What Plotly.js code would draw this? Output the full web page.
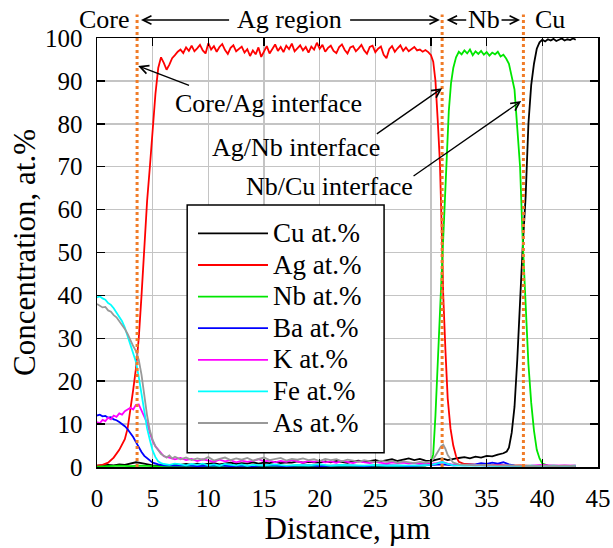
<!DOCTYPE html>
<html><head><meta charset="utf-8">
<script src="https://cdn.plot.ly/plotly-3.0.1.min.js"></script>
<style>html,body{margin:0;padding:0;background:#fff}#chart{width:613px;height:548px}</style>
</head><body><div id="chart"></div>
<script>
const seriesNames = ['Cu at.%','Ag at.%','Nb at.%','Ba at.%','K at.%','Fe at.%','As at.%'];
const seriesColors = ['#000000','#ff0000','#00e600','#0000ff','#ff00ff','#00ffff','#999999'];
const interfaces = [3.6, 31.0, 38.3];

const cuPts = [[0,0.3],[0.5,0.4],[1,0.5],[1.5,0.4],[2,0.6],[2.5,0.5],[3,0.8],[3.5,1.1],[4,0.9],[4.5,0.6],[5,0.4],[5.5,0.3],[6,0.5],[6.5,0.4],[7,0.6],[7.5,0.5],[8,0.7],[8.5,0.5],[9,0.8],[9.5,0.6],[10,0.7],[10.5,0.9],[11,0.6],[11.5,0.8],[12,1.0],[12.5,0.7],[13,0.9],[13.5,0.8],[14,1.1],[14.5,0.8],[15,1.0],[15.5,0.9],[16,1.2],[16.5,0.9],[17,1.1],[17.5,1.0],[18,1.3],[18.5,1.0],[19,1.2],[19.5,1.1],[20,1.0],[20.5,1.3],[21,1.1],[21.5,1.4],[22,1.2],[22.5,1.0],[23,1.3],[23.5,1.5],[24,1.2],[24.5,1.4],[25,1.6],[25.5,1.3],[26,1.5],[26.5,1.8],[27,1.4],[27.5,1.7],[28,2.0],[28.5,1.6],[29,1.9],[29.5,1.5],[30,1.4],[30.5,1.7],[31,2.0],[31.5,1.6],[32,1.9],[32.5,2.1],[33,2.3],[33.5,2.0],[34,2.4],[34.5,2.2],[35,2.6],[35.5,2.5],[36,2.9],[36.5,3.2],[36.8,3.6],[37,4.5],[37.25,8],[37.5,14],[37.75,25],[38,40],[38.25,52],[38.5,63],[38.75,80],[39,89],[39.25,94],[39.5,97.5],[39.75,99],[40,99.6],[40.25,99.2],[40.5,99.7],[40.75,99.4],[41,99.8],[41.25,99.3],[41.5,99.6],[41.75,99.9],[42,99.4],[42.25,99.7],[42.5,99.5],[42.75,99.9],[43,99.6]];

const agPts = [[0,0.3],[0.5,0.5],[1,1.0],[1.5,2.2],[2,4.0],[2.5,6.5],[2.75,9],[3,13],[3.25,18],[3.5,23],[3.75,30],[4,40],[4.25,52],[4.5,62],[4.75,70],[5,79],[5.25,87],[5.5,93],[5.75,95.5],[6,94.2],[6.25,92.6],[6.5,93.8],[6.75,95.3],[7,96.0],[7.25,96.8],[7.5,97.3],[7.75,96.5],[8,97.8],[8.25,97.0],[8.5,98.2],[8.75,96.9],[9,97.6],[9.25,98.4],[9.5,97.1],[9.75,96.4],[10,98.8],[10.25,97.3],[10.5,98.1],[10.75,96.8],[11,97.9],[11.25,98.6],[11.5,97.2],[11.75,96.3],[12,97.7],[12.25,98.3],[12.5,96.9],[12.75,97.5],[13,98.0],[13.25,96.6],[13.5,97.4],[13.75,95.8],[14,97.1],[14.25,96.2],[14.5,97.8],[14.75,95.6],[15,96.9],[15.25,98.1],[15.5,96.4],[15.75,97.6],[16,98.5],[16.25,97.0],[16.5,97.9],[16.75,96.7],[17,98.2],[17.25,97.4],[17.5,98.7],[17.75,96.9],[18,97.6],[18.25,98.3],[18.5,97.1],[18.75,97.9],[19,96.6],[19.25,98.0],[19.5,97.3],[19.75,98.9],[20,97.5],[20.25,98.4],[20.5,96.8],[20.75,97.7],[21,98.2],[21.25,97.0],[21.5,96.5],[21.75,97.9],[22,98.5],[22.25,97.2],[22.5,96.4],[22.75,97.8],[23,98.1],[23.25,96.9],[23.5,97.6],[23.75,98.4],[24,97.1],[24.25,96.3],[24.5,97.9],[24.75,98.2],[25,96.7],[25.25,97.5],[25.5,98.0],[25.75,96.1],[26,95.3],[26.25,97.4],[26.5,98.1],[26.75,96.8],[27,97.6],[27.25,98.3],[27.5,97.0],[27.75,97.8],[28,96.9],[28.25,97.4],[28.5,97.9],[28.75,97.1],[29,97.3],[29.25,96.8],[29.5,97.2],[29.75,96.7],[30,96],[30.2,94.5],[30.4,90],[30.6,81],[30.8,71],[31,52],[31.1,40],[31.3,27],[31.5,16],[31.75,9],[32,5],[32.25,2.5],[32.5,1.2],[33,0.7],[34,0.5],[35,0.4],[36,0.5],[37,0.3],[38,0.4],[39,0.3],[40,0.2],[41,0.3],[42,0.2],[43,0.3]];

const nbPts = [[0,0.1],[1,0.2],[2,0.3],[3,0.2],[4,0.3],[5,0.2],[6,0.1],[8,0.2],[10,0.1],[12,0.2],[14,0.1],[16,0.2],[18,0.1],[20,0.2],[22,0.1],[24,0.2],[26,0.1],[28,0.2],[29.5,0.3],[30,1],[30.2,3],[30.4,12],[30.6,24],[30.8,36],[31,45],[31.2,58],[31.4,72],[31.6,83],[31.8,89.5],[32,93],[32.25,95.5],[32.5,96.8],[32.75,96.2],[33,97.1],[33.25,96.4],[33.5,97.3],[33.75,96.0],[34,96.9],[34.25,96.3],[34.5,97.0],[34.75,96.1],[35,96.7],[35.25,95.9],[35.5,96.6],[35.75,96.2],[36,96.8],[36.25,95.7],[36.5,96.1],[36.75,95.2],[37,94],[37.25,91],[37.5,88],[37.75,79],[38,70],[38.25,52],[38.5,37],[38.75,24],[39,15],[39.25,8.5],[39.5,4],[39.75,2],[40,0.8],[40.5,0.3],[41,0.2],[42,0.2],[43,0.1]];

const baPts = [[0,12],[0.25,12.2],[0.5,11.8],[0.75,11.9],[1,11.5],[1.25,11.6],[1.5,11.1],[1.75,10.9],[2,10.5],[2.25,10.1],[2.5,9.5],[2.75,8.8],[3,8],[3.25,7],[3.5,5.8],[3.75,4.6],[4,3.5],[4.25,2.6],[4.5,2],[4.75,1.5],[5,1],[5.5,0.6],[6,0.4],[7,0.3],[8,0.4],[9,0.2],[10,0.3],[11,0.4],[12,0.2],[13,0.3],[14,0.2],[15,0.4],[16,0.3],[17,0.2],[18,0.3],[19,0.4],[20,0.2],[21,0.3],[22,0.4],[23,0.3],[24,0.2],[25,0.3],[26,0.4],[27,0.3],[28,0.2],[29,0.3],[30,0.4],[31,0.6],[32,0.4],[33,0.5],[33.5,0.7],[34,0.6],[34.5,0.9],[35,0.7],[35.5,1.0],[36,0.8],[36.5,1.1],[37,0.6],[37.5,0.3],[38,0.2],[39,0.2],[40,0.1],[41,0.2],[42,0.1],[43,0.2]];

const kPts = [[0,10.5],[0.25,10.2],[0.5,11],[0.75,10.7],[1,11.5],[1.25,11.1],[1.5,12],[1.75,11.7],[2,12.5],[2.25,12.2],[2.5,13],[2.75,13.5],[3,13.8],[3.25,13.4],[3.5,14.5],[3.75,14.6],[4,13.2],[4.25,12],[4.5,10.3],[4.75,8],[5,6],[5.25,4.8],[5.5,4],[5.75,3.2],[6,2.5],[6.5,2.2],[7,1.8],[7.5,2.1],[8,1.6],[8.5,1.9],[9,1.4],[9.5,1.8],[10,1.5],[10.5,1.2],[11,1.7],[11.5,1.3],[12,1.6],[12.5,1.1],[13,1.5],[13.5,1.2],[14,1.4],[14.5,1.8],[15,1.3],[15.5,1.5],[16,1.1],[16.5,1.4],[17,1.2],[17.5,1.6],[18,1.3],[18.5,1.0],[19,1.4],[19.5,1.2],[20,1.5],[20.5,1.1],[21,1.3],[21.5,1.0],[22,1.4],[22.5,1.2],[23,0.9],[23.5,1.3],[24,1.1],[24.5,0.9],[25,1.2],[25.5,1.0],[26,0.8],[26.5,1.1],[27,0.9],[27.5,1.0],[28,0.8],[28.5,0.9],[29,0.7],[29.5,0.8],[30,0.7],[30.5,0.9],[31,1.2],[31.5,0.8],[32,0.5],[33,0.4],[34,0.5],[35,0.3],[36,0.4],[37,0.3],[38,0.2],[39,0.3],[40,0.5],[41,0.3],[42,0.4],[43,0.3]];

const fePts = [[0,39.5],[0.25,39.8],[0.5,39.3],[0.75,39],[1,38.2],[1.25,37.8],[1.5,37],[1.75,36],[2,35],[2.25,34],[2.5,32.5],[2.75,30.5],[3,28.5],[3.25,26.5],[3.5,24.5],[3.75,21],[4,17],[4.25,12.6],[4.5,9],[4.75,6.3],[5,3.8],[5.25,2.3],[5.5,1.3],[5.75,0.9],[6,0.7],[6.5,0.5],[7,0.8],[7.5,0.6],[8,0.4],[8.5,0.7],[9,0.5],[9.5,0.8],[10,0.4],[10.5,0.6],[11,0.3],[11.5,0.7],[12,0.5],[12.5,0.4],[13,0.6],[13.5,0.3],[14,0.5],[15,0.4],[16,0.6],[17,0.3],[18,0.5],[19,0.4],[20,0.6],[21,0.3],[22,0.5],[23,0.4],[24,0.3],[25,0.5],[26,0.3],[27,0.4],[28,0.3],[29,0.4],[30,0.5],[30.5,0.8],[31,1.2],[31.5,0.7],[32,0.4],[33,0.3],[34,0.4],[35,0.3],[36,0.2],[37,0.3],[38,0.2],[39,0.3],[40,0.2],[41,0.3],[42,0.2],[43,0.3]];

const asPts = [[0,38],[0.25,37.6],[0.5,37.2],[0.75,37.3],[1,36.5],[1.25,36.2],[1.5,35.4],[1.75,34.9],[2,34],[2.25,33.3],[2.5,32.2],[2.75,31],[3,29.5],[3.25,28.2],[3.5,27],[3.75,25],[4,21.5],[4.25,16.5],[4.5,12],[4.75,8.5],[5,6.3],[5.25,4.8],[5.5,3.8],[5.75,3.0],[6,2.6],[6.25,2.2],[6.5,2.7],[6.75,2.0],[7,2.4],[7.5,1.8],[8,2.2],[8.5,1.6],[9,2.0],[9.5,1.7],[10,2.3],[10.5,1.5],[11,1.9],[11.5,2.2],[12,1.6],[12.5,2.0],[13,1.7],[13.5,2.1],[14,1.5],[14.5,1.9],[15,2.2],[15.5,1.6],[16,1.8],[16.5,2.1],[17,1.5],[17.5,1.9],[18,1.7],[18.5,2.0],[19,1.6],[19.5,1.8],[20,1.4],[20.5,1.9],[21,1.6],[21.5,1.8],[22,1.3],[22.5,1.7],[23,1.5],[23.5,1.2],[24,1.6],[24.5,1.4],[25,1.1],[25.5,1.5],[26,1.2],[26.5,1.4],[27,1.0],[27.5,1.3],[28,1.1],[28.5,0.9],[29,1.2],[29.5,1.0],[30,1.3],[30.3,2.2],[30.6,3.5],[30.9,4.8],[31.1,5.2],[31.3,4.2],[31.5,2.8],[31.8,1.6],[32,1.0],[32.5,0.6],[33,0.5],[34,0.4],[35,0.5],[36,0.3],[37,0.4],[38,0.3],[39,0.2],[40,0.3],[41,0.2],[42,0.3],[43,0.2]];

const xTicks = [0,5,10,15,20,25,30,35,40,45];
const yTicks = [0,10,20,30,40,50,60,70,80,90,100];

const allPts = [cuPts, agPts, nbPts, baPts, kPts, fePts, asPts];
const FONT = 'Liberation Serif';

const traces = allPts.map((pts, i) => ({
  type: 'scatter', mode: 'lines',
  name: '<span style="font-size:27px">' + seriesNames[i] + '</span>',
  x: pts.map(p => p[0]), y: pts.map(p => p[1]),
  line: {color: seriesColors[i], width: 1.8},
  cliponaxis: true
}));

const shapes = interfaces.map(v => ({
  type: 'line', xref: 'x', yref: 'paper', x0: v, x1: v, y0: 0, y1: 1.055,
  line: {color: '#f07c28', width: 3, dash: 'dot'}, layer: 'above'
}));
shapes.push({type: 'rect', xref: 'paper', yref: 'paper', x0: 0.18, x1: 0.573, y0: 0.033, y1: 0.611,
  fillcolor: '#ffffff', line: {color: '#000000', width: 1.5}, layer: 'above'});

const aFont = {family: FONT, size: 26, color: '#000'};
function txt(x, y, t, yref) { return {x: x, y: y, xref: 'x', yref: yref || 'y', text: t, showarrow: false, font: aFont, xanchor: 'center', yanchor: 'middle'}; }
function arr(x, y, ax, ay) { return {x: x, y: y, ax: ax, ay: ay, xref: 'x', yref: 'y', axref: 'x', ayref: 'y', text: '', showarrow: true, arrowhead: 5, arrowsize: 1.3, arrowwidth: 1.3, arrowcolor: '#000', standoff: 0, startstandoff: 0}; }
function harr(x, ax, yp) { return {x: x, y: yp, ax: ax, ay: 0, xref: 'x', yref: 'paper', axref: 'x', ayref: 'pixel', text: '', showarrow: true, arrowhead: 5, arrowsize: 1.3, arrowwidth: 1.3, arrowcolor: '#000', standoff: 0, startstandoff: 0}; }

const TOPY = 1.042;
const annotations = [
  txt(0.7, TOPY, 'Core', 'paper'),
  txt(17.3, TOPY, 'Ag region', 'paper'),
  harr(3.95, 12.0, TOPY),
  harr(30.8, 22.6, TOPY),
  txt(34.75, TOPY, 'Nb', 'paper'),
  harr(31.4, 33.3, TOPY),
  harr(38.0, 36.2, TOPY),
  txt(40.7, TOPY, 'Cu', 'paper'),
  txt(15.4, 84.8, 'Core/Ag interface'),
  arr(3.7, 93.5, 8.4, 88.8),
  txt(17.9, 74.4, 'Ag/Nb interface'),
  arr(31.0, 88.3, 25.0, 77.4),
  txt(20.9, 65.3, 'Nb/Cu interface'),
  arr(38.1, 85.3, 28.3, 67.6)
];

const axCommon = {
  showgrid: true, gridcolor: '#c4c4c4', gridwidth: 1.5,
  showline: true, linecolor: '#000', linewidth: 1.5, mirror: 'ticks',
  ticks: 'inside', ticklen: 8, tickwidth: 1.5, tickcolor: '#000',
  zeroline: false, tickfont: {family: FONT, size: 25, color: '#000'},
  ticklabelstandoff: 8
};

const layout = {
  width: 613, height: 548,
  margin: {l: 97, r: 15, t: 38, b: 81},
  paper_bgcolor: '#fff', plot_bgcolor: '#fff',
  font: {family: FONT, color: '#000'},
  showlegend: true,
  legend: {x: 0.1916, y: 0.593, xanchor: 'left', yanchor: 'top', bgcolor: 'rgba(0,0,0,0)', borderwidth: 0,
    font: {family: FONT, size: 22, color: '#000'}, itemwidth: 70, tracegroupgap: 0},
  xaxis: Object.assign({}, axCommon, {range: [0, 45], tickvals: xTicks, ticktext: xTicks.map(String),
    automargin: 'bottom',
    title: {text: 'Distance, µm', font: {family: FONT, size: 31, color: '#000'}, standoff: 2}}),
  yaxis: Object.assign({}, axCommon, {range: [0, 100], tickvals: yTicks, ticktext: yTicks.map(String),
    automargin: 'left',
    title: {text: 'Concentration, at.%', font: {family: FONT, size: 31, color: '#000'}, standoff: 0}}),
  shapes: shapes,
  annotations: annotations
};

Plotly.newPlot('chart', traces, layout, {staticPlot: true, displayModeBar: false});
</script></body></html>
